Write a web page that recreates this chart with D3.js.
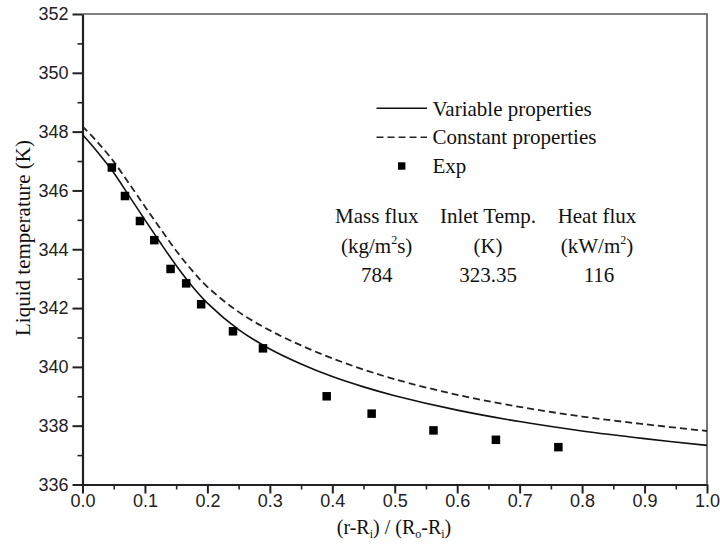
<!DOCTYPE html>
<html><head><meta charset="utf-8">
<script src="https://cdn.jsdelivr.net/npm/d3@7"></script>
<style>body{margin:0;background:#fff}svg{display:block}</style>
</head><body>
<svg id="chart" width="720" height="545"></svg>
<script>
// ---- data ----
const curveX = [0.00, 0.025, 0.05, 0.075, 0.10, 0.125, 0.15, 0.175, 0.20, 0.25, 0.30, 0.35, 0.40, 0.45, 0.50, 0.60, 0.70, 0.80, 0.90, 1.00];
const variableProps = [347.90, 347.28, 346.60, 345.80, 345.00, 344.21, 343.45, 342.76, 342.17, 341.27, 340.61, 340.10, 339.67, 339.32, 339.02, 338.53, 338.14, 337.82, 337.56, 337.33];
const constantProps = [348.18, 347.62, 346.98, 346.22, 345.45, 344.69, 343.95, 343.29, 342.72, 341.87, 341.24, 340.73, 340.29, 339.91, 339.58, 339.05, 338.64, 338.31, 338.05, 337.82];
const expX = [0.047, 0.068, 0.092, 0.115, 0.141, 0.166, 0.190, 0.241, 0.289, 0.391, 0.463, 0.562, 0.662, 0.762];
const expT = [346.78, 345.81, 344.96, 344.31, 343.33, 342.84, 342.13, 341.21, 340.63, 339.00, 338.41, 337.84, 337.52, 337.27];
const xTicks = [0, 0.1, 0.2, 0.3, 0.4, 0.5, 0.6, 0.7, 0.8, 0.9, 1.0];
const xMinorTicks = [0.05, 0.15, 0.25, 0.35, 0.45, 0.55, 0.65, 0.75, 0.85, 0.95];
const yTicks = [336, 338, 340, 342, 344, 346, 348, 350, 352];
const yMinorTicks = [337, 339, 341, 343, 345, 347, 349, 351];
const legendLabels = ["Variable properties", "Constant properties", "Exp"];
const condHeaders = ["Mass flux", "Inlet Temp.", "Heat flux"];
const condValues = ["784", "323.35", "116"];

// ---- layout ----
const svg = d3.select("#chart");
const L = 82.5, R = 707, T = 14, B = 484.5;
const x = d3.scaleLinear().domain([0, 1]).range([L, R]);
const y = d3.scaleLinear().domain([336, 352]).range([B, T]);
const serif = "'Liberation Serif','Times New Roman',serif";
const sans = "'Liberation Sans',Arial,Helvetica,sans-serif";

// frame (top / right)
svg.append("path")
  .attr("d", `M${L},${T}H${R}V${B}`)
  .attr("fill", "none").attr("stroke", "#555").attr("stroke-width", 1.6);

// minor ticks
svg.append("g").attr("transform", `translate(0,${B})`)
  .call(d3.axisBottom(x).tickValues(xMinorTicks).tickSize(5).tickFormat(""))
  .call(g => g.select(".domain").remove())
  .call(g => g.selectAll("line").attr("stroke", "#222").attr("stroke-width", 1.6));
svg.append("g").attr("transform", `translate(${L},0)`)
  .call(d3.axisLeft(y).tickValues(yMinorTicks).tickSize(5).tickFormat(""))
  .call(g => g.select(".domain").remove())
  .call(g => g.selectAll("line").attr("stroke", "#222").attr("stroke-width", 1.6));

// major axes
const xAxis = svg.append("g").attr("transform", `translate(0,${B})`)
  .call(d3.axisBottom(x).tickValues(xTicks).tickSize(9).tickSizeOuter(0).tickPadding(1).tickFormat(d3.format(".1f")));
const yAxis = svg.append("g").attr("transform", `translate(${L},0)`)
  .call(d3.axisLeft(y).tickValues(yTicks).tickSize(10).tickSizeOuter(0).tickPadding(4).tickFormat(d3.format("d")));
[xAxis, yAxis].forEach(a => {
  a.select(".domain").attr("stroke", "#222").attr("stroke-width", 2.2);
  a.selectAll(".tick line").attr("stroke", "#222").attr("stroke-width", 2);
  a.selectAll(".tick text").attr("font-family", sans).attr("font-size", 18).attr("fill", "#222");
});

// curves
const line = d3.line().x(d => x(d[0])).y(d => y(d[1])).curve(d3.curveCatmullRom.alpha(0.5));
svg.append("path").datum(curveX.map((v, i) => [v, variableProps[i]]))
  .attr("d", line).attr("fill", "none").attr("stroke", "#111").attr("stroke-width", 1.6);
svg.append("path").datum(curveX.map((v, i) => [v, constantProps[i]]))
  .attr("d", line).attr("fill", "none").attr("stroke", "#222").attr("stroke-width", 1.8)
  .attr("stroke-dasharray", "7,4");

// experimental points
const sq = 8.5;
svg.append("g").selectAll("rect").data(expX.map((v, i) => [v, expT[i]])).join("rect")
  .attr("x", d => x(d[0]) - sq / 2).attr("y", d => y(d[1]) - sq / 2)
  .attr("width", sq).attr("height", sq).attr("fill", "#000");

// legend
const leg = svg.append("g").attr("font-family", serif).attr("font-size", 21).attr("fill", "#111");
const legY = [116, 144.3, 172.6];
leg.append("line").attr("x1", 376.5).attr("x2", 427).attr("y1", 108.3).attr("y2", 108.3)
  .attr("stroke", "#111").attr("stroke-width", 1.6);
leg.append("line").attr("x1", 376.5).attr("x2", 427).attr("y1", 137.3).attr("y2", 137.3)
  .attr("stroke", "#222").attr("stroke-width", 1.6).attr("stroke-dasharray", "7,4");
leg.append("rect").attr("x", 401.7 - 3.7).attr("y", 166 - 3.7).attr("width", 7.4).attr("height", 7.4).attr("fill", "#000");
legendLabels.forEach((t, i) => leg.append("text").attr("x", 432.5).attr("y", legY[i]).text(t));

// conditions table
const cond = svg.append("g").attr("font-family", serif).attr("font-size", 21).attr("fill", "#111").attr("text-anchor", "middle");
const colX = [376.7, 488, 597];
condHeaders.forEach((t, i) => cond.append("text").attr("x", colX[i]).attr("y", 222.5).text(t));
const u1 = cond.append("text").attr("x", colX[0]).attr("y", 252.5);
u1.append("tspan").text("(kg/m");
u1.append("tspan").attr("font-size", 12).attr("dy", -9).text("2");
u1.append("tspan").attr("dy", 9).text("s)");
cond.append("text").attr("x", colX[1]).attr("y", 252.5).text("(K)");
const u3 = cond.append("text").attr("x", colX[2]).attr("y", 252.5);
u3.append("tspan").text("(kW/m");
u3.append("tspan").attr("font-size", 12).attr("dy", -9).text("2");
u3.append("tspan").attr("dy", 9).text(")");
condValues.forEach((t, i) => cond.append("text").attr("x", colX[i] + (i === 2 ? 2 : 0)).attr("y", 282).text(t));

// axis titles
const xt = svg.append("text").attr("x", 394).attr("y", 534).attr("text-anchor", "middle")
  .attr("font-family", serif).attr("font-size", 20).attr("fill", "#111");
xt.append("tspan").text("(r-R");
xt.append("tspan").attr("font-size", 12).attr("dy", 4).text("i");
xt.append("tspan").attr("dy", -4).text(") / (R");
xt.append("tspan").attr("font-size", 12).attr("dy", 4).text("o");
xt.append("tspan").attr("dy", -4).text("-R");
xt.append("tspan").attr("font-size", 12).attr("dy", 4).text("i");
xt.append("tspan").attr("dy", -4).text(")");

svg.append("text").attr("transform", "translate(30,238) rotate(-90)").attr("text-anchor", "middle")
  .attr("font-family", serif).attr("font-size", 21).attr("fill", "#111")
  .text("Liquid temperature (K)");
</script>
</body></html>
